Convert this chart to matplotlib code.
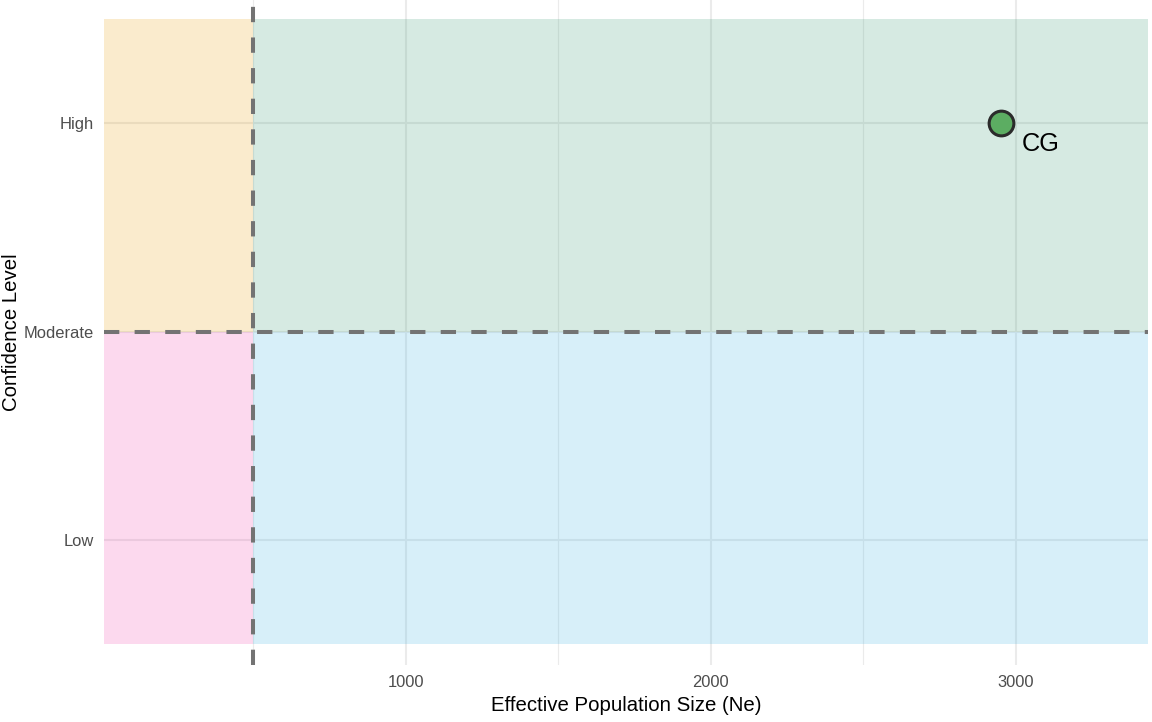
import matplotlib
matplotlib.use("Agg")
import matplotlib.pyplot as plt
from matplotlib.patches import Rectangle
from matplotlib.ticker import FixedLocator

plt.rcParams['font.family'] = ['Liberation Sans', 'DejaVu Sans']

# ---- data ----
species = ["CG"]
ne_values = [2950]
confidence = ["High"]
levels = ["Low", "Moderate", "High"]
x_ticks = [1000, 2000, 3000]
x_minor = [500, 1500, 2500]
ne_threshold = 500
conf_threshold = "Moderate"

# quadrant fills: (x-side, y-side, colour)
quad_colors = {
    ("low", "high"): "#E69B05",
    ("high", "high"): "#32966E",
    ("low", "low"): "#F041AA",
    ("high", "low"): "#37AFE1",
}

fig = plt.figure(figsize=(11.52, 7.22), dpi=100)
ax = fig.add_axes([104 / 1152, 1 - 665 / 722, (1148.3 - 104) / 1152, 666.5 / 722])

xlim = (11.5, 3433.5)
ax.set_xlim(*xlim)
ax.set_ylim(0.4, 3.6)

ypos = {lv: i + 1 for i, lv in enumerate(levels)}
yth = ypos[conf_threshold]
ylo, yhi = 0.5, len(levels) + 0.5

# grid
ax.set_xticks(x_ticks)
ax.xaxis.set_minor_locator(FixedLocator(x_minor))
ax.set_yticks([ypos[l] for l in levels])
ax.set_yticklabels(levels)
ax.grid(which="major", color="#EBEBEB", lw=1.5, zorder=0)
ax.grid(which="minor", axis="x", color="#EBEBEB", lw=0.8, zorder=0)
ax.set_axisbelow(True)

# quadrants
for (xs, ys), col in quad_colors.items():
    x0, x1 = (xlim[0], ne_threshold) if xs == "low" else (ne_threshold, xlim[1])
    y0, y1 = (ylo, yth) if ys == "low" else (yth, yhi)
    ax.add_patch(Rectangle((x0, y0), x1 - x0, y1 - y0, facecolor=col,
                           alpha=0.2, edgecolor="none", zorder=1))

# threshold lines
ax.axvline(ne_threshold, color="#737373", lw=2.9, ls=(0, (3.8, 3.8)), zorder=3)
ax.axhline(yth, color="#737373", lw=2.9, ls=(0, (3.8, 3.8)), zorder=3)

# points
yv = [ypos[c] for c in confidence]
ax.plot(ne_values, yv, "o", ms=17.8, mfc="#5CAD62", mec="#2B2B2B", mew=2.2,
        zorder=4, ls="none")
for s, x, y in zip(species, ne_values, yv):
    ax.annotate(s, (x, y), xytext=(21, -28), textcoords="offset pixels",
                ha="left", va="baseline", fontsize=18.3, color="black", zorder=5)

for sp in ax.spines.values():
    sp.set_visible(False)
ax.tick_params(which="both", length=0, labelsize=11.9, labelcolor="#4D4D4D")
ax.tick_params(axis="x", pad=7.5)
ax.tick_params(axis="y", pad=7)

ax.set_xlabel("Effective Population Size (Ne)", fontsize=14.7, color="black", labelpad=4)
fig.text(11.5 / 1152, 1 - 332 / 722, "Confidence Level", rotation=90,
         ha="center", va="center", fontsize=14.7, color="black")

fig.savefig("out.png", dpi=100)
